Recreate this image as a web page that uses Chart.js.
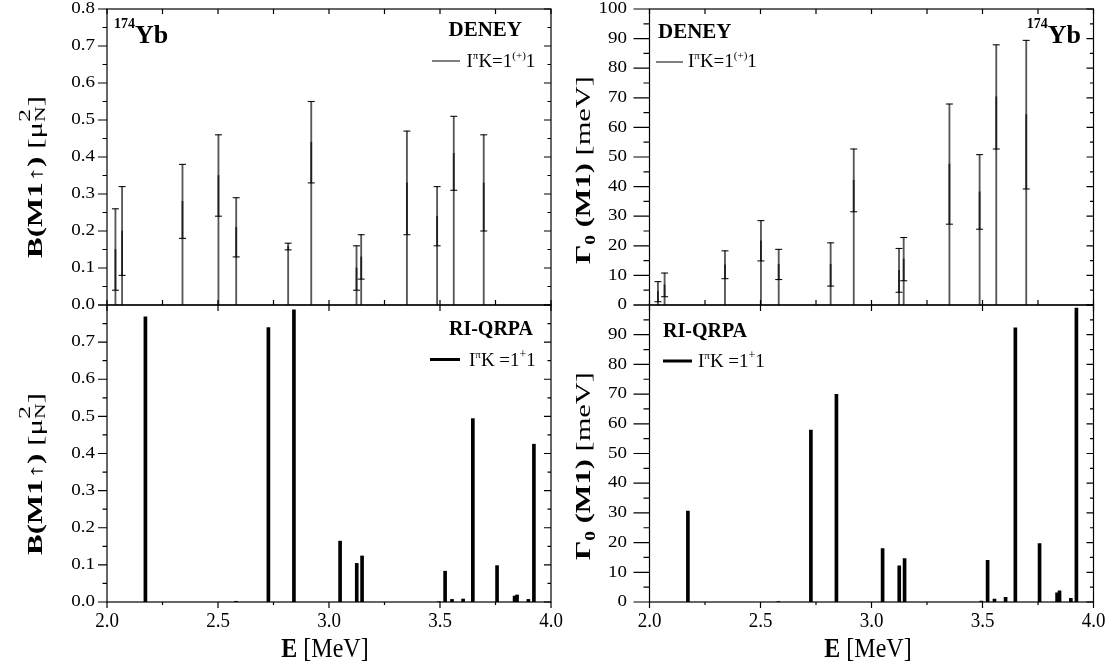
<!DOCTYPE html>
<html><head><meta charset="utf-8">
<script src="https://cdn.jsdelivr.net/npm/chart.js@4.4.1/dist/chart.umd.min.js"></script>
<style>
html,body{margin:0;padding:0;background:#fff;}
#wrap{position:relative;width:1110px;height:665px;background:#fff;}
canvas{position:absolute;left:0;top:0;}
</style></head><body>
<div id="wrap">
<canvas id="tl" width="1110" height="665"></canvas>
<canvas id="bl" width="1110" height="665"></canvas>
<canvas id="tr" width="1110" height="665"></canvas>
<canvas id="br" width="1110" height="665"></canvas>
</div>
<script>
// ---------- data ----------
const deneyE    = [2.038, 2.068, 2.340, 2.502, 2.582, 2.816, 2.920, 3.124, 3.145, 3.351, 3.487, 3.562, 3.697];
const deneyB    = [0.15, 0.20, 0.28, 0.35, 0.21, 0.158, 0.44, 0.10, 0.13, 0.33, 0.24, 0.41, 0.33];
const deneyBErr = [0.11, 0.12, 0.10, 0.11, 0.08, 0.009, 0.11, 0.06, 0.06, 0.14, 0.08, 0.10, 0.13];
const deneyG    = [4.5, 6.8, 13.6, 21.7, 13.7, 13.7, 42.1, 11.7, 15.5, 47.6, 38.2, 70.3, 64.3];
const deneyGErr = [3.4, 4.0, 4.7, 6.8, 5.1, 7.3, 10.6, 7.4, 7.3, 20.3, 12.6, 17.6, 25.1];

const qrpaE = [2.173, 2.581, 2.727, 2.842, 3.050, 3.125, 3.149, 3.495, 3.523, 3.554, 3.604, 3.648, 3.757, 3.836, 3.847, 3.898, 3.923];
const qrpaB = [0.768, 0.002, 0.739, 0.787, 0.164, 0.104, 0.124, 0.001, 0.083, 0.007, 0.008, 0.494, 0.098, 0.016, 0.019, 0.007, 0.425];
const qrpaG = [30.6, 0.1, 57.9, 69.9, 18.0, 12.2, 14.6, 0.3, 14.0, 1.0, 1.6, 92.3, 19.7, 3.1, 3.8, 1.2, 99.0];

const xTicks      = [2.0, 2.5, 3.0, 3.5, 4.0];
const bTicksTop   = [0.0, 0.1, 0.2, 0.3, 0.4, 0.5, 0.6, 0.7, 0.8];
const bTicksBot   = [0.0, 0.1, 0.2, 0.3, 0.4, 0.5, 0.6, 0.7];
const gTicksTop   = [0, 10, 20, 30, 40, 50, 60, 70, 80, 90, 100];
const gTicksBot   = [0, 10, 20, 30, 40, 50, 60, 70, 80, 90];

// ---------- helpers ----------
const SERIF = '"Liberation Serif", "Times New Roman", serif';
const F = (s, b) => (b ? 'bold ' : '') + s + 'px ' + SERIF;

function richWidth(ctx, parts){
  let w = 0;
  for (const p of parts){ ctx.font = p.f; p._w = ctx.measureText(p.t).width; if (!p.stack) w += p._w; }
  return w;
}
function drawRich(ctx, parts, x, y, align){
  const w = richWidth(ctx, parts);
  let cx = align === 'right' ? x - w : align === 'center' ? x - w / 2 : x;
  for (const p of parts){
    ctx.font = p.f; ctx.fillText(p.t, cx, y + (p.dy || 0));
    if (!p.stack) cx += p._w;
  }
}
function drawVTitle(ctx, parts, x, cy, len){
  ctx.save();
  ctx.translate(x, cy); ctx.rotate(-Math.PI / 2);
  const w = richWidth(ctx, parts);
  ctx.scale(len / w, 1);
  drawRich(ctx, parts, 0, 0, 'center');
  ctx.restore();
}

function panelPlugin(p){
  return {
    id: 'panel',
    afterDraw(chart){
      const ctx = chart.ctx, xs = chart.scales.x, ys = chart.scales.y, a = chart.chartArea;
      ctx.save();
      ctx.strokeStyle = '#000'; ctx.fillStyle = '#000'; ctx.lineWidth = 1.2;
      ctx.strokeRect(a.left, a.top, a.right - a.left, a.bottom - a.top);
      ctx.beginPath();
      const nY = Math.round((ys.max - ys.min) / p.yMinor);
      for (let k = 0; k <= nY; k++){
        const y = ys.getPixelForValue(ys.min + k * p.yMinor);
        const major = k % 2 === 0;
        ctx.moveTo(a.left, y); ctx.lineTo(a.left - (major ? p.yMaj : p.yMin), y);
        ctx.moveTo(a.right, y); ctx.lineTo(a.right - (major ? 7 : 3.5), y);
      }
      for (let k = 0; k <= 8; k++){
        const x = xs.getPixelForValue(2 + k * 0.25);
        const major = k % 2 === 0;
        if (p.isTop){
          ctx.moveTo(x, a.top); ctx.lineTo(x, a.top + 5);
          ctx.moveTo(x, a.bottom); ctx.lineTo(x, a.bottom - 5);
        } else {
          if (major){ ctx.moveTo(x, a.top); ctx.lineTo(x, a.top + 6); }
          ctx.moveTo(x, a.bottom); ctx.lineTo(x, a.bottom + (major ? 6 : 3));
        }
      }
      ctx.stroke();

      ctx.textAlign = 'right'; ctx.textBaseline = 'middle'; ctx.font = F(19);
      for (const v of p.yTicks){
        const y = ys.getPixelForValue(v);
        ctx.save(); ctx.translate(p.yLabelX, y); ctx.scale(1, 0.85);
        ctx.fillText(p.yFmt(v), 0, 0); ctx.restore();
      }
      if (!p.isTop){
        ctx.textAlign = 'center'; ctx.textBaseline = 'alphabetic'; ctx.font = F(19);
        for (const v of xTicks){
          const x = xs.getPixelForValue(v);
          ctx.save(); ctx.translate(x, 627); ctx.scale(1, 1.05);
          ctx.fillText(v.toFixed(1), 0, 0); ctx.restore();
        }
        ctx.textAlign = 'left';
        ctx.save(); ctx.translate(p.xTitleX, 657); ctx.scale(1, 1.1);
        drawRich(ctx, [{t: 'E', f: F(24, true)}, {t: ' [MeV]', f: F(24)}], 0, 0, 'center');
        ctx.restore();
      }
      ctx.textAlign = 'left'; ctx.textBaseline = 'alphabetic';
      drawVTitle(ctx, p.yTitle, p.yTitleX, p.yTitleCY, p.yTitleLen);
      for (const t of p.texts) drawRich(ctx, t.parts, t.x, t.y, t.align);
      ctx.beginPath(); ctx.lineWidth = p.legW;
      ctx.moveTo(p.leg[0], p.leg[2]); ctx.lineTo(p.leg[1], p.leg[2]); ctx.stroke();
      ctx.restore();
    }
  };
}

function baseOptions(area, ymax){
  return {
    responsive: false, animation: false, events: [],
    layout: { autoPadding: false, padding: { left: area[0], right: 1110 - area[1], top: area[2], bottom: 665 - area[3] } },
    plugins: { legend: { display: false }, tooltip: { enabled: false } },
    scales: {
      x: { type: 'linear', min: 2, max: 4, display: false, offset: false },
      y: { type: 'linear', min: 0, max: ymax, display: false }
    }
  };
}

function deneyDatasets(vals, errs){
  const col = 'rgba(0,0,0,0.66)';
  const caps = [];
  deneyE.forEach((e, i) => { caps.push({x: e, y: vals[i] - errs[i]}); caps.push({x: e, y: vals[i] + errs[i]}); });
  return [
    { type: 'bar', data: deneyE.map((e, i) => ({x: e, y: vals[i]})), backgroundColor: col, borderWidth: 0, barThickness: 1.2, grouped: false },
    { type: 'bar', data: deneyE.map((e, i) => ({x: e, y: [vals[i] - errs[i], vals[i] + errs[i]]})), backgroundColor: col, borderWidth: 0, barThickness: 1.2, grouped: false },
    { type: 'line', data: caps, showLine: false, pointStyle: 'line', pointRadius: 3.5, borderColor: '#111', borderWidth: 1.1, clip: false }
  ];
}
function qrpaDatasets(vals){
  return [{ type: 'bar', data: qrpaE.map((e, i) => ({x: e, y: vals[i]})), backgroundColor: '#000', borderWidth: 0, barThickness: 3, grouped: false }];
}

const legTop = (x, y) => ({parts: [
  {t: 'I', f: F(19)}, {t: 'π', f: F(11), dy: -8}, {t: 'K=1', f: F(19)}, {t: '(+)', f: F(11), dy: -8}, {t: '1', f: F(19)}], x, y, align: 'left'});
const legBot = (x, y) => ({parts: [
  {t: 'I', f: F(19)}, {t: 'π', f: F(11), dy: -8}, {t: 'K =1', f: F(19)}, {t: '+', f: F(12), dy: -8}, {t: '1', f: F(19)}], x, y, align: 'left'});
const yb = (x, y, align) => ({parts: [{t: '174', f: F(14, true), dy: -15}, {t: 'Yb', f: F(26, true)}], x, y, align});

const bTitle = () => [
  {t: 'B(M1↑)', f: F(20, true)}, {t: ' [μ', f: F(20)},
  {t: '2', f: F(17), dy: -12, stack: true}, {t: 'N', f: F(14), dy: 3}, {t: ']', f: F(20)}];
const gTitle = () => [
  {t: 'Γ', f: F(22, true)}, {t: '0', f: F(14, true), dy: 5}, {t: ' (M1)', f: F(22, true)}, {t: ' [meV]', f: F(22)}];

const L = [107, 551], R = [649.5, 1093.5], T = [9, 305], B = [305, 602];

new Chart(document.getElementById('tl'), {
  data: { datasets: deneyDatasets(deneyB, deneyBErr) },
  options: baseOptions([L[0], L[1], T[0], T[1]], 0.8),
  plugins: [panelPlugin({
    isTop: true, yMinor: 0.05, yMaj: 9, yMin: 4.5, yTicks: bTicksTop, yFmt: v => v.toFixed(1), yLabelX: 95,
    yTitle: bTitle(), yTitleX: 42, yTitleCY: 177, yTitleLen: 162,
    texts: [yb(114, 43, 'left'), {parts: [{t: 'DENEY', f: F(21, true)}], x: 522, y: 36, align: 'right'}, legTop(466.5, 66.5)],
    leg: [432, 460, 61], legW: 1
  })]
});
new Chart(document.getElementById('bl'), {
  data: { datasets: qrpaDatasets(qrpaB) },
  options: baseOptions([L[0], L[1], B[0], B[1]], 0.8),
  plugins: [panelPlugin({
    isTop: false, yMinor: 0.05, yMaj: 9, yMin: 4.5, yTicks: bTicksBot, yFmt: v => v.toFixed(1), yLabelX: 95,
    yTitle: bTitle(), yTitleX: 42, yTitleCY: 474, yTitleLen: 162, xTitleX: 325,
    texts: [{parts: [{t: 'RI-QRPA', f: F(20, true)}], x: 533, y: 335, align: 'right'}, legBot(469, 366)],
    leg: [430, 460, 359.5], legW: 3
  })]
});
new Chart(document.getElementById('tr'), {
  data: { datasets: deneyDatasets(deneyG, deneyGErr) },
  options: baseOptions([R[0], R[1], T[0], T[1]], 100),
  plugins: [panelPlugin({
    isTop: true, yMinor: 5, yMaj: 16, yMin: 6, yTicks: gTicksTop, yFmt: v => String(v), yLabelX: 627,
    yTitle: gTitle(), yTitleX: 590, yTitleCY: 170, yTitleLen: 188,
    texts: [yb(1081, 43, 'right'), {parts: [{t: 'DENEY', f: F(21, true)}], x: 658, y: 38, align: 'left'}, legTop(688, 67)],
    leg: [656, 683, 62], legW: 1
  })]
});
new Chart(document.getElementById('br'), {
  data: { datasets: qrpaDatasets(qrpaG) },
  options: baseOptions([R[0], R[1], B[0], B[1]], 100),
  plugins: [panelPlugin({
    isTop: false, yMinor: 5, yMaj: 16, yMin: 6, yTicks: gTicksBot, yFmt: v => String(v), yLabelX: 627,
    yTitle: gTitle(), yTitleX: 590, yTitleCY: 466, yTitleLen: 188, xTitleX: 868,
    texts: [{parts: [{t: 'RI-QRPA', f: F(20, true)}], x: 663, y: 337, align: 'left'}, legBot(698, 367)],
    leg: [663, 692, 361], legW: 3
  })]
});
</script>
</body></html>
